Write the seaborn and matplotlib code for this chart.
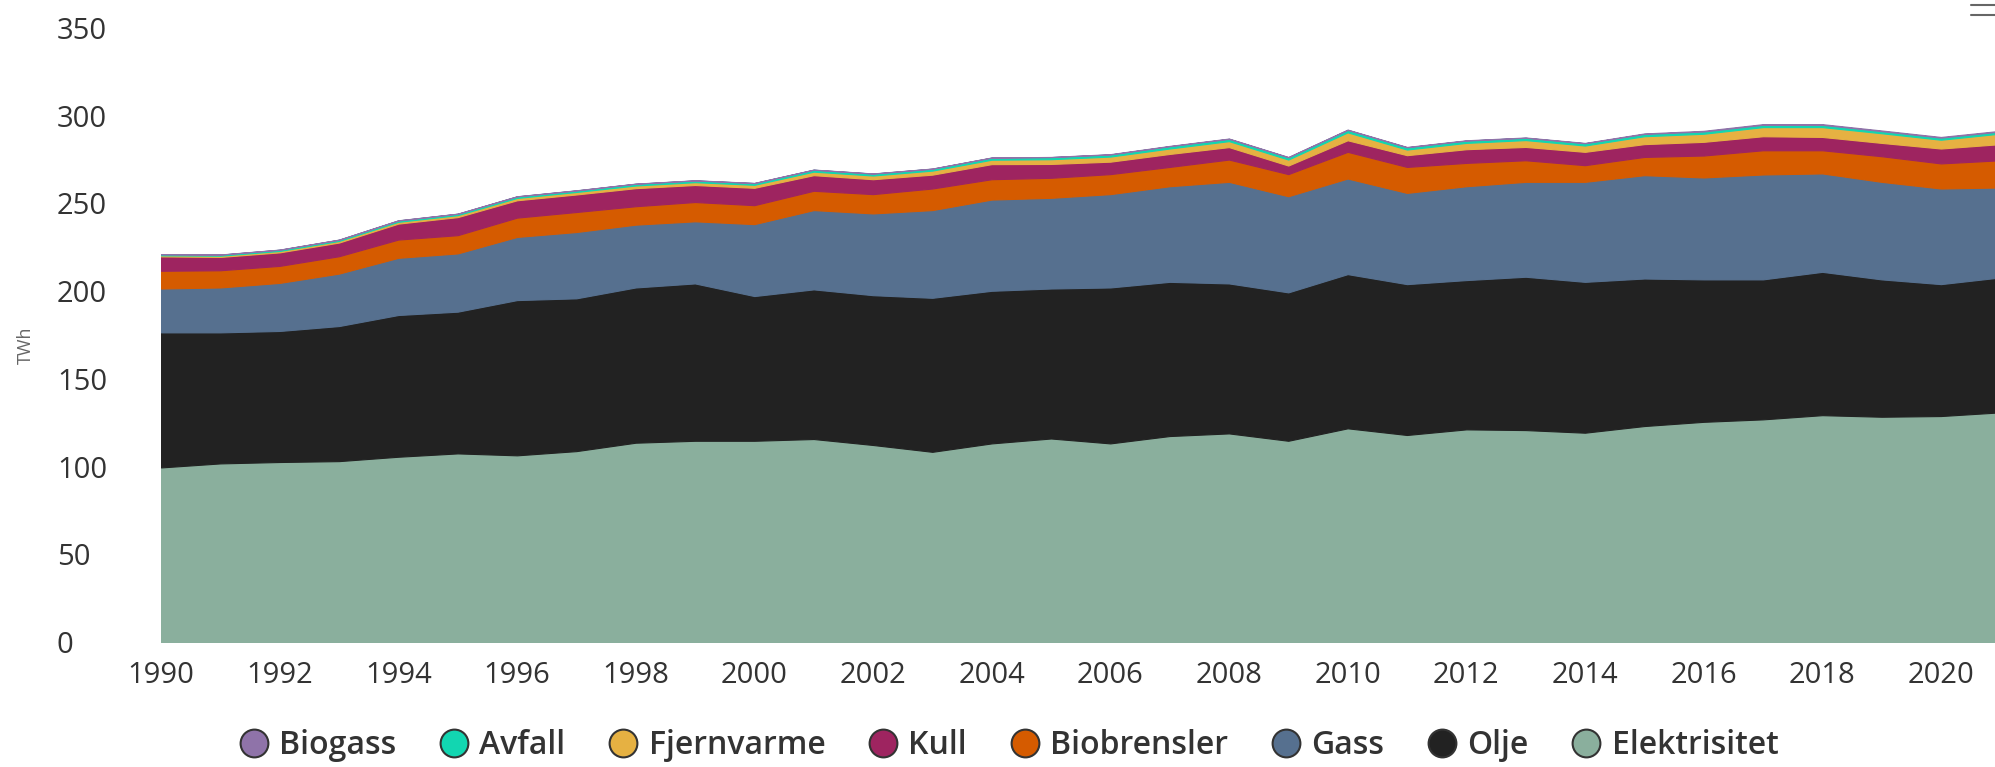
import pandas as pd
import matplotlib.pyplot as plt
import matplotlib.lines as mlines
import seaborn as sns

years = list(range(1990, 2022))

elektrisitet = [99.5, 101.8, 102.6, 103.1, 105.6, 107.5, 106.4, 108.8, 113.6, 114.7,
                114.7, 115.7, 112.3, 108.4, 113.2, 116.0, 113.2, 117.4, 118.9, 114.7,
                121.8, 118.0, 121.2, 120.8, 119.3, 123.1, 125.5, 126.9, 129.3, 128.4,
                128.8, 130.9]
olje = [77.0, 74.7, 74.7, 77.0, 80.8, 80.8, 88.5, 87.1, 88.5, 89.7,
        82.5, 85.3, 85.4, 87.8, 87.0, 85.5, 88.9, 87.9, 85.5, 84.6,
        87.9, 86.0, 85.1, 87.4, 86.0, 84.1, 81.2, 79.8, 81.7, 78.3,
        75.2, 76.9]
gass = [25.0, 25.6, 27.4, 29.9, 32.6, 33.2, 36.0, 37.8, 35.8, 35.4,
        41.0, 45.2, 46.6, 50.0, 52.0, 51.7, 53.2, 54.5, 57.9, 54.8,
        54.5, 52.0, 53.5, 54.1, 57.0, 58.9, 58.1, 59.8, 56.1, 55.6,
        54.5, 51.3]
biobrensler = [10.1, 9.8, 9.7, 9.9, 10.4, 10.4, 11.0, 11.4, 10.5, 11.0,
               10.8, 11.0, 11.0, 12.3, 11.6, 11.4, 11.4, 11.0, 12.7, 12.6,
               15.2, 14.8, 13.3, 12.3, 9.5, 10.4, 12.5, 13.8, 13.2, 14.6,
               14.3, 15.5]
kull = [8.2, 7.6, 7.7, 7.8, 9.1, 10.3, 9.9, 10.0, 10.3, 9.7,
        9.9, 8.9, 8.5, 7.9, 8.6, 7.9, 7.1, 7.4, 7.1, 4.9,
        6.6, 6.7, 7.8, 7.6, 7.6, 7.3, 7.8, 8.0, 7.6, 7.6,
        8.5, 9.2]
fjernvarme = [0.6, 0.7, 0.8, 0.9, 1.0, 1.1, 1.3, 1.4, 1.5, 1.6,
              1.7, 2.0, 2.1, 2.3, 2.5, 2.7, 2.9, 3.1, 3.4, 3.4,
              4.5, 3.2, 3.6, 3.9, 3.6, 4.5, 4.6, 5.2, 5.6, 5.5,
              5.0, 6.0]
avfall = [0.6, 0.6, 0.7, 0.7, 0.8, 0.8, 0.9, 0.9, 1.0, 1.0,
          1.0, 1.1, 1.1, 1.1, 1.2, 1.2, 1.2, 1.3, 1.3, 1.3,
          1.4, 1.3, 1.3, 1.3, 1.3, 1.3, 1.3, 1.3, 1.3, 1.2,
          1.2, 1.2]
biogass = [0.1, 0.1, 0.1, 0.1, 0.1, 0.1, 0.1, 0.1, 0.1, 0.1,
           0.1, 0.1, 0.1, 0.1, 0.1, 0.1, 0.2, 0.2, 0.2, 0.2,
           0.2, 0.2, 0.2, 0.2, 0.2, 0.3, 0.4, 0.4, 0.4, 0.4,
           0.4, 0.4]

# bottom to top
series = ['Elektrisitet', 'Olje', 'Gass', 'Biobrensler', 'Kull', 'Fjernvarme', 'Avfall', 'Biogass']
colors = ['#8aaf9d', '#222222', '#56708f', '#d55b00', '#9e2460', '#e6b142', '#12d6b1', '#8f73a9']

df = pd.DataFrame({
    'Elektrisitet': elektrisitet, 'Olje': olje, 'Gass': gass, 'Biobrensler': biobrensler,
    'Kull': kull, 'Fjernvarme': fjernvarme, 'Avfall': avfall, 'Biogass': biogass,
}, index=years)

sns.set_theme(style='white')
plt.rcParams['font.family'] = ['Open Sans', 'DejaVu Sans']

fig = plt.figure(figsize=(19.95, 7.67), dpi=100)
ax = fig.add_axes([161 / 1995, 1 - 642 / 767, 1 - 161 / 1995, (642 - 28) / 767])

ax.stackplot(df.index, [df[s] for s in series], colors=colors, labels=series,
             edgecolor='face', linewidth=0.8)

ax.set_xlim(1990, 1990 + (1995 - 161) / 59.33)
ax.set_ylim(0, 350)
ax.set_xticks(range(1990, 2021, 2))
ax.set_yticks(range(0, 351, 50))
ax.tick_params(axis='both', labelsize=21, colors='#333333', length=0)
ax.tick_params(axis='x', pad=14)
ax.tick_params(axis='y', pad=75)
for lbl in ax.get_yticklabels():
    lbl.set_horizontalalignment('left')
for s in ax.spines.values():
    s.set_visible(False)
ax.grid(False)

fig.text(26 / 1995, 1 - 345 / 767, 'TWh', rotation=90, fontsize=13, color='#666666',
         ha='center', va='center')

# legend in Highcharts order (top series first)
handles = []
for s, c in zip(series[::-1], colors[::-1]):
    handles.append(mlines.Line2D([], [], marker='o', linestyle='none', markersize=20,
                                 markerfacecolor=c, markeredgecolor='#333333',
                                 markeredgewidth=1.5, label=s))
leg = fig.legend(handles=handles, loc='center', bbox_to_anchor=(1008 / 1995, 1 - 746 / 767),
                 ncol=8, frameon=False, fontsize=23, handletextpad=0.3, columnspacing=1.3,
                 handlelength=1.0)
for t in leg.get_texts():
    t.set_color('#333333')
    t.set_fontweight('semibold')

# export menu icon (partly cut at the top edge)
for yy in (5, 15):
    fig.add_artist(mlines.Line2D([1971 / 1995, 1995 / 1995], [1 - yy / 767, 1 - yy / 767],
                                 color='#666666', linewidth=1.5))

fig.savefig('out.png', dpi=100)
